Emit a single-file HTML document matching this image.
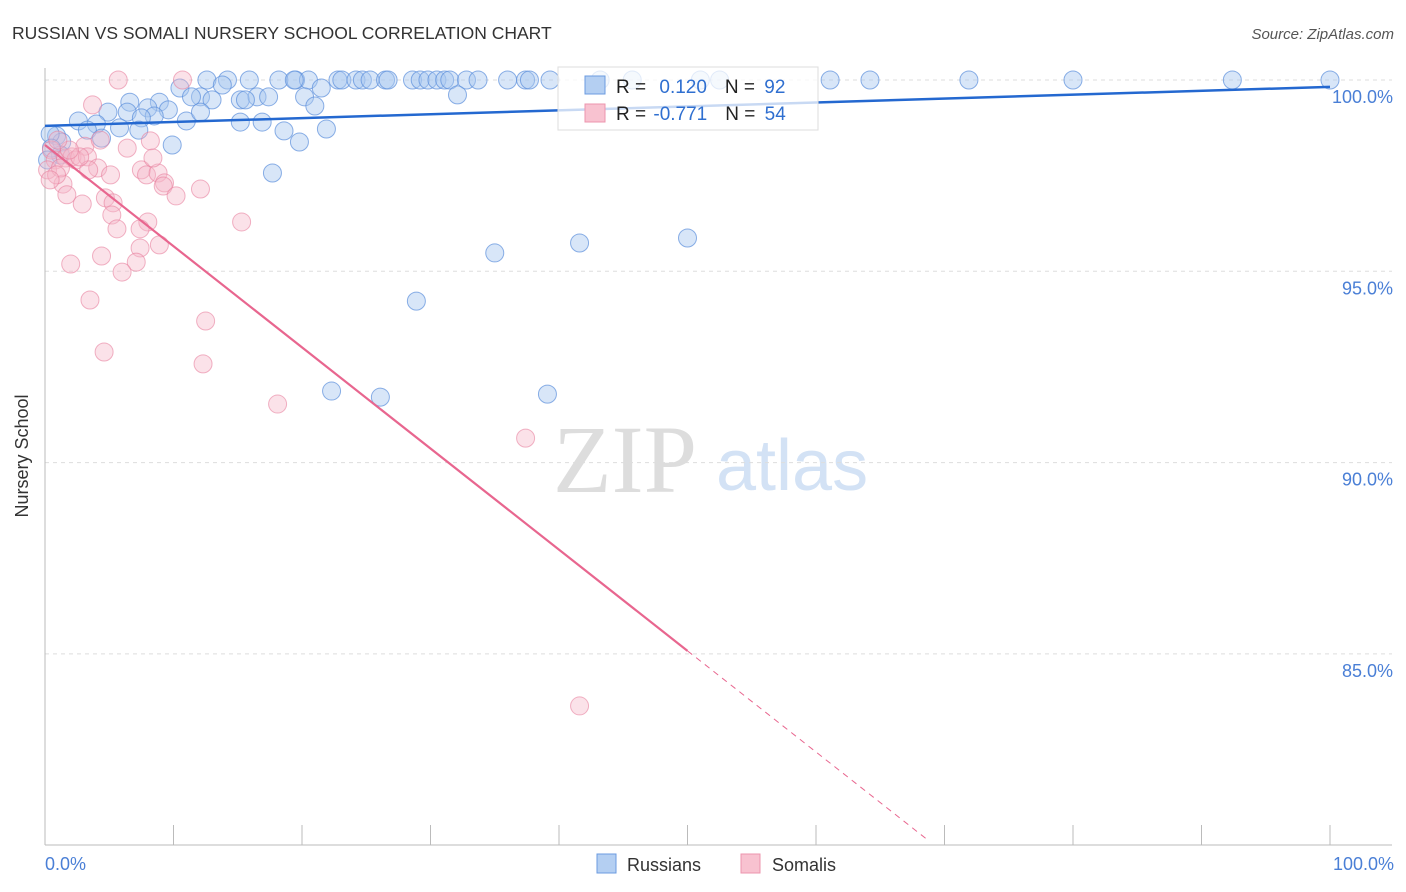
<!DOCTYPE html>
<html><head><meta charset="utf-8"><style>
body{margin:0;background:#fff;font-family:"Liberation Sans",sans-serif;}
svg{display:block}
</style></head><body>
<svg id="chart" width="1406" height="892" viewBox="0 0 1406 892">
<text x="12" y="39" font-size="17.5" fill="#333">RUSSIAN VS SOMALI NURSERY SCHOOL CORRELATION CHART</text>
<text x="1394" y="39" font-size="15" fill="#555" font-style="italic" text-anchor="end">Source: ZipAtlas.com</text>
<g>
<text x="553" y="492" font-size="96" font-family="Liberation Serif,serif" fill="#ddd">ZIP</text>
<text x="716" y="490" font-size="72" fill="#d3e2f5">atlas</text>
</g>
<g id="grid"></g>
<g id="axes"></g>
<g id="pts"></g>
<g id="lines"></g>
<text x="28" y="456" font-size="18" fill="#333" text-anchor="middle" transform="rotate(-90 28 456)">Nursery School</text>
<text x="45" y="870" font-size="18" fill="#4a7fd6">0.0%</text>
<text x="1394" y="870" font-size="18" fill="#4a7fd6" text-anchor="end">100.0%</text>
<g>
<rect x="558" y="67" width="260" height="63" fill="#fff" fill-opacity="0.75" stroke="#ddd"/>
<rect x="585" y="76" width="20" height="18" fill="#b4cff2" stroke="#6b9be0"/>
<rect x="585" y="104" width="20" height="18" fill="#f8c2d0" stroke="#ec94ae"/>
<text x="616" y="93" font-size="19" fill="#222">R = <tspan fill="#2f6fd0" dx="8">0.120</tspan><tspan dx="18">N = </tspan><tspan fill="#2f6fd0" dx="4">92</tspan></text>
<text x="616" y="120" font-size="19" fill="#222">R = <tspan fill="#2f6fd0" dx="2">-0.771</tspan><tspan dx="18">N = </tspan><tspan fill="#2f6fd0" dx="4">54</tspan></text>
</g>
<g>
<rect x="597" y="854" width="19" height="19" fill="#b4cff2" stroke="#6b9be0"/>
<text x="627" y="871" font-size="18" fill="#333">Russians</text>
<rect x="741" y="854" width="19" height="19" fill="#f8c2d0" stroke="#ec94ae"/>
<text x="772" y="871" font-size="18" fill="#333">Somalis</text>
</g>
</svg>
<script>
const yTicks=[100,95,90,85];
const yTickLabels=["100.0%","95.0%","90.0%","85.0%"];
const xTickValues=[0,10,20,30,40,50,60,70,80,90,100];
const russiansX=[12.6,14.2,15.9,18.2,19.5,20.5,22.8,23.1,24.2,24.7,25.3,26.5,28.6,29.2,29.8,30.5,31.1,31.5,32.8,33.7,36.0,37.4,37.7,39.3,43.2,45.7,51.0,52.5,61.1,64.2,71.9,80.0,92.4,100,19.4,26.7,
10.5,13.8,12.1,13.0,11.4,15.2,16.5,17.4,15.6,20.2,21.0,21.5,32.1,6.6,8.9,8.0,6.4,4.9,9.6,11.0,8.5,7.5,5.8,4.0,2.6,3.3,4.4,0.9,1.3,0.4,7.3,12.1,15.2,16.9,18.6,19.8,21.9,9.9,17.7,28.9,35.0,41.6,50.0,22.3,26.1,39.1,1.2,0.5,0.2];
const russiansY=[100,100,100,100,100,100,100,100,100,100,100,100,100,100,100,100,100,100,100,100,100,100,100,100,100,100,100,100,100,100,100,100,100,100,100,100,
99.79,99.87,99.56,99.48,99.56,99.48,99.56,99.56,99.48,99.56,99.32,99.79,99.61,99.42,99.42,99.27,99.16,99.16,99.22,98.93,99.06,99.01,98.75,98.85,98.93,98.69,98.48,98.54,98.38,98.59,98.69,99.16,98.90,98.90,98.67,98.38,98.72,98.30,97.57,94.22,95.48,95.74,95.87,91.87,91.71,91.79,98.04,98.22,97.91];
const somalisX=[5.7,10.7,3.7,8.2,6.4,3.1,0.5,0.8,0.2,1.6,2.1,2.4,3.3,4.1,5.1,3.4,1.4,1.7,2.9,4.7,5.3,5.2,5.6,7.5,7.9,8.8,8.4,9.3,9.2,10.2,12.1,8.0,7.4,7.4,7.1,4.4,2.0,6.0,8.9,15.3,3.5,12.5,4.6,12.3,18.1,37.4,41.6,1.2,0.9,0.4,2.7,1.9,4.3,1.0];
const somalisY=[100,100,99.35,98.41,98.22,98.27,98.17,97.91,97.65,97.96,97.99,97.91,97.99,97.70,97.52,97.65,97.28,97.0,96.76,96.92,96.79,96.47,96.11,97.65,97.52,97.57,97.96,97.31,97.23,96.97,97.15,96.29,96.11,95.61,95.24,95.40,95.19,94.98,95.69,96.29,94.25,93.70,92.89,92.58,91.53,90.64,83.64,97.70,97.52,97.39,97.99,98.17,98.43,98.43];
const russiansTrend=[98.8,99.82];
const somalisTrend=[98.3,-0.2644];
const NS="http://www.w3.org/2000/svg";
const xs=v=>45+v*12.85;
const ys=v=>80+(100-v)*38.26;
function mk(parent,tag,attrs){const e=document.createElementNS(NS,tag);for(const k in attrs)e.setAttribute(k,attrs[k]);document.getElementById(parent).appendChild(e);return e;}
yTicks.forEach((t,i)=>{
 const g=mk('grid','line',{x1:45,x2:1392,y1:ys(t),y2:ys(t),stroke:'#ddd','stroke-dasharray':'4,4'});
 
 
 const l=mk('grid','text',{x:1393,y:ys(t)+23,'font-size':18,fill:'#4a7fd6','text-anchor':'end'});
 l.textContent=yTickLabels[i];
 
 
});
const ya=mk('axes','line',{x1:45,x2:45,y1:68,y2:845,stroke:'#bbb'});


const xa=mk('axes','line',{x1:45,x2:1392,y1:845,y2:845,stroke:'#bbb'});


xTickValues.forEach(v=>{
 const t=mk('axes','line',{x1:xs(v),x2:xs(v),y1:825,y2:845,stroke:'#bbb'});
 
 
});
russiansX.forEach((x,i)=>{
 const c=mk('pts','circle',{cx:xs(x),cy:ys(russiansY[i]),r:9,fill:'#a8c7f0','fill-opacity':0.45,stroke:'#5b8fdb','stroke-opacity':0.7});
 
 
});
somalisX.forEach((x,i)=>{
 const c=mk('pts','circle',{cx:xs(x),cy:ys(somalisY[i]),r:9,fill:'#f6b6c9','fill-opacity':0.4,stroke:'#e8809f','stroke-opacity':0.6});
 
 
});
const bl=mk('lines','line',{x1:xs(0),y1:ys(russiansTrend[0]),x2:xs(100),y2:ys(russiansTrend[1]),stroke:'#2468d0','stroke-width':2.5});


const sy=x=>somalisTrend[0]+somalisTrend[1]*x;
const pl=mk('lines','line',{x1:xs(0),y1:ys(sy(0)),x2:xs(50),y2:ys(sy(50)),stroke:'#e8668f','stroke-width':2.2});


const xEnd=(somalisTrend[0]-80.1)/-somalisTrend[1];
const pd=mk('lines','line',{x1:xs(50),y1:ys(sy(50)),x2:xs(xEnd),y2:ys(sy(xEnd)),stroke:'#e8668f','stroke-width':1,'stroke-dasharray':'6,5'});


</script>
</body></html>
